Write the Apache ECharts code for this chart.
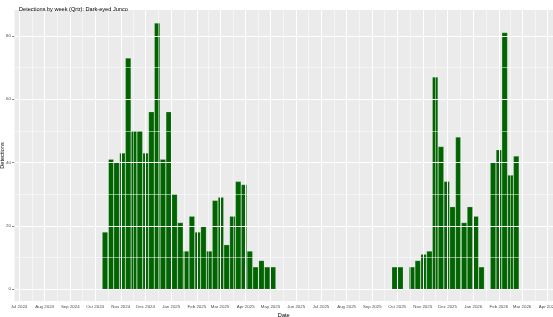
<!DOCTYPE html>
<html>
<head>
<meta charset="utf-8">
<script src="https://cdn.jsdelivr.net/npm/echarts@6/dist/echarts.min.js"></script>
<style>
html,body{margin:0;padding:0;background:#fff;}
#c{width:553px;height:317px;}
</style>
</head>
<body>
<div id="c"></div>
<script>
// ---- data ----
var weekStarts = [
  '2024-10-13','2024-10-20','2024-10-27','2024-11-03','2024-11-10','2024-11-17','2024-11-24',
  '2024-12-01','2024-12-08','2024-12-15','2024-12-22','2024-12-29','2025-01-05','2025-01-12',
  '2025-01-19','2025-01-26','2025-02-02','2025-02-09','2025-02-16','2025-02-23','2025-03-02',
  '2025-03-09','2025-03-16','2025-03-23','2025-03-30','2025-04-06','2025-04-13','2025-04-20',
  '2025-04-27','2025-05-04',
  '2025-09-28','2025-10-05','2025-10-19','2025-10-26','2025-11-02','2025-11-09','2025-11-16',
  '2025-11-23','2025-11-30','2025-12-07','2025-12-14','2025-12-21','2025-12-28','2026-01-04',
  '2026-01-11','2026-01-25','2026-02-01','2026-02-08','2026-02-15','2026-02-22'
];
var detections = [
  18,41,40,43,73,50,50,
  43,56,84,41,56,30,21,
  12,23,18,20,12,28,29,
  14,23,34,33,12,7,9,
  7,7,
  7,7,7,9,11,12,67,
  45,34,26,48,21,26,23,
  7,40,44,81,36,42
];
var monthTicks = [
  '2024-07-01','2024-08-01','2024-09-01','2024-10-01','2024-11-01','2024-12-01',
  '2025-01-01','2025-02-01','2025-03-01','2025-04-01','2025-05-01','2025-06-01',
  '2025-07-01','2025-08-01','2025-09-01','2025-10-01','2025-11-01','2025-12-01',
  '2026-01-01','2026-02-01','2026-03-01','2026-04-01'
];
var yTicks = [0, 20, 40, 60, 80];
var yMinorTicks = [10, 30, 50, 70];
var monthNames = ['Jan','Feb','Mar','Apr','May','Jun','Jul','Aug','Sep','Oct','Nov','Dec'];

// ---- build ----
function toTime(s){ var p = s.split('-'); return Date.UTC(+p[0], +p[1]-1, +p[2]); }
var tickTimes = monthTicks.map(toTime);
var minorX = [];
for (var i = 0; i + 1 < tickTimes.length; i++) minorX.push((tickTimes[i] + tickTimes[i+1]) / 2);
var barData = weekStarts.map(function(d, i){ return [toTime(d), detections[i]]; });
var HALF_BAR = 0.45 * 7 * 86400000; // ggplot default bar width 0.9 of a week

var gridLines = [];
minorX.forEach(function(t){ gridLines.push({xAxis: t, lineStyle:{width:0.5}}); });
yMinorTicks.forEach(function(v){ gridLines.push({yAxis: v, lineStyle:{width:0.5}}); });
tickTimes.forEach(function(t){ gridLines.push({xAxis: t, lineStyle:{width:1}}); });
yTicks.forEach(function(v){ gridLines.push({yAxis: v, lineStyle:{width:1}}); });

var chart = echarts.init(document.getElementById('c'), null, {renderer:'canvas'});
var font = 'Liberation Sans, Arial, sans-serif';
chart.setOption({
  animation: false,
  title: {
    text: 'Detections by week (Qrtr): Dark-eyed Junco',
    left: 14, top: 1,
    textStyle: {fontSize: 5.6, fontWeight: 'normal', color: '#000', fontFamily: font}
  },
  grid: {
    left: 14.5, top: 10, right: 0, bottom: 16,
    show: true, backgroundColor: '#EBEBEB', borderWidth: 0,
    containLabel: false, outerBoundsMode: 'none'
  },
  xAxis: {
    type: 'value',
    min: Date.UTC(2024, 5, 25, 14),
    max: Date.UTC(2026, 3, 7, 10),
    name: 'Date', nameLocation: 'middle', nameGap: 11.5, nameMoveOverlap: false,
    nameTextStyle: {fontSize: 5.6, color: '#000', fontFamily: font},
    axisLine: {show: false},
    axisTick: {show: true, customValues: tickTimes, length: 2.5, lineStyle: {color: '#333', width: 0.6}},
    axisLabel: {
      customValues: tickTimes, fontSize: 4.4, color: '#4D4D4D', margin: 3.5, fontFamily: font,
      hideOverlap: false, showMinLabel: true, showMaxLabel: true,
      formatter: function(v){ var d = new Date(v); return monthNames[d.getUTCMonth()] + ' ' + d.getUTCFullYear(); }
    },
    splitLine: {show: false}
  },
  yAxis: {
    type: 'value',
    min: -3.7, max: 88.2,
    name: 'Detections', nameLocation: 'middle', nameGap: 9, nameMoveOverlap: false,
    nameTextStyle: {fontSize: 5.6, color: '#000', fontFamily: font},
    axisLine: {show: false},
    axisTick: {show: true, customValues: yTicks, length: 2.5, lineStyle: {color: '#333', width: 0.6}},
    axisLabel: {customValues: yTicks, fontSize: 4.4, color: '#4D4D4D', margin: 3.5, fontFamily: font},
    splitLine: {show: false}
  },
  series: [
    {
      type: 'line', data: [], z: 1, silent: true,
      markLine: {
        silent: true, symbol: ['none','none'], animation: false,
        label: {show: false},
        lineStyle: {color: '#ffffff', type: 'solid'},
        emphasis: {disabled: true},
        data: gridLines
      }
    },
    {
      type: 'custom', data: barData, z: 2, silent: true, clip: true,
      encode: {x: 0, y: 1},
      renderItem: function(params, api){
        var t = api.value(0), v = api.value(1);
        var p0 = api.coord([t - HALF_BAR, v]);
        var p1 = api.coord([t + HALF_BAR, 0]);
        return {
          type: 'rect',
          shape: {x: p0[0], y: p0[1], width: p1[0] - p0[0], height: p1[1] - p0[1]},
          style: {fill: '#006400', stroke: 'rgba(255,255,255,0.45)', lineWidth: 0.4}
        };
      }
    }
  ]
});
</script>
</body>
</html>
